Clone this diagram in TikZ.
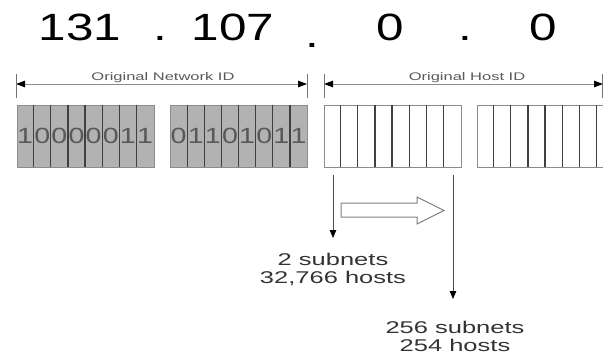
\documentclass[tikz,border=0pt]{standalone}
\usepackage{fontspec}
\setmainfont{Liberation Sans}
\usetikzlibrary{arrows.meta}

\begin{document}
\begin{tikzpicture}[x=1pt,y=-1pt,
  octet/.style={draw=black!45, line width=0.9pt, minimum width=137pt, minimum height=62pt, inner sep=0pt},
  divider/.style={draw=black!75, line width=1.2pt},
  bit/.style={inner sep=0pt, text=black!65, font=\fontsize{22}{22}\selectfont},
  quad/.style={anchor=base, inner sep=0pt, font=\fontsize{38}{40}\selectfont},
  dimline/.style={draw=black!45, line width=0.8pt,
    {Triangle[length=9pt,width=6.5pt,fill=black,color=black]}-{Triangle[length=9pt,width=6.5pt,fill=black,color=black]}},
  dimtick/.style={draw=black!55, line width=0.8pt},
  dimlabel/.style={anchor=base, inner sep=0pt, text=black!65, font=\fontsize{11}{11}\selectfont},
  pointer/.style={draw=black!70, line width=0.8pt, -{Triangle[length=8pt,width=6.5pt,fill=black,color=black]}},
  result/.style={inner sep=0pt, text=black!80, font=\fontsize{17}{17.5}\selectfont},
  hollow/.style={draw=black!50, fill=white, line width=1pt, line join=miter}
]
\useasboundingbox (0,0) rectangle (603,360);

% dotted-decimal address
\node[quad] (q1) at (80,40)  {\scalebox{1.3}[1]{131}};
\node[quad] (p1) at (160,40) {\scalebox{1.3}[1]{.}};
\node[quad] (q2) at (233,40) {\scalebox{1.3}[1]{107}};
\node[quad] (p2) at (312,47) {\scalebox{1.3}[1]{.}};
\node[quad] (q3) at (390,40) {\scalebox{1.3}[1]{0}};
\node[quad] (p3) at (465,40) {\scalebox{1.3}[1]{.}};
\node[quad] (q4) at (543,40) {\scalebox{1.3}[1]{0}};

% network / host extent markers
\coordinate (nL) at (16,84);
\coordinate (nR) at (307,84);
\coordinate (hL) at (324,84);
\coordinate (hR) at (603,84);
\draw[dimline] (nL) -- (nR);
\draw[dimline] (hL) -- (hR);
\foreach \x in {16,307,324,602.5} \draw[dimtick] (\x,74) -- (\x,98);
\node[dimlabel] (netid)  at (163,80) {\scalebox{1.5}[1]{Original Network ID}};
\node[dimlabel] (hostid) at (467,80) {\scalebox{1.5}[1]{Original Host ID}};

% the four octets, eight bit cells each
\foreach \n/\cx/\f in {b1/85.5/black!30, b2/239/black!30, b3/392.5/white, b4/545.5/white} {
  \node[octet, fill=\f] (\n) at (\cx,136) {};
  \foreach \i in {1,...,7}
    \draw[divider] ([xshift=\i*17.125pt]\n.north west) -- ([xshift=\i*17.125pt]\n.south west);
}
\foreach \b [count=\i] in {1,0,0,0,0,0,1,1}
  \node[bit] at ([xshift=(\i-0.5)*17.125pt]b1.west) {\scalebox{1.3}[1]{\b}};
\foreach \b [count=\i] in {0,1,1,0,1,0,1,1}
  \node[bit] at ([xshift=(\i-0.5)*17.125pt]b2.west) {\scalebox{1.3}[1]{\b}};

% subnet boundary pointers
\coordinate (s1) at (333,175);
\coordinate (e1) at (333,238);
\coordinate (s2) at (453,175);
\coordinate (e2) at (453,299);
\draw[pointer] (s1) -- (e1);
\draw[pointer] (s2) -- (e2);

% hollow shift arrow
\draw[hollow] (341,203) -- (417,203) -- (417,197) -- (444,210.5) -- (417,224) -- (417,217) -- (341,217) -- cycle;

% results
\node[result] (r1) at (333,271) {\scalebox{1.5}[1]{\begin{tabular}{@{}c@{}}2 subnets\\32,766 hosts\end{tabular}}};
\node[result] (r2) at (455,339) {\scalebox{1.5}[1]{\begin{tabular}{@{}c@{}}256 subnets\\254 hosts\end{tabular}}};
\end{tikzpicture}
\end{document}
